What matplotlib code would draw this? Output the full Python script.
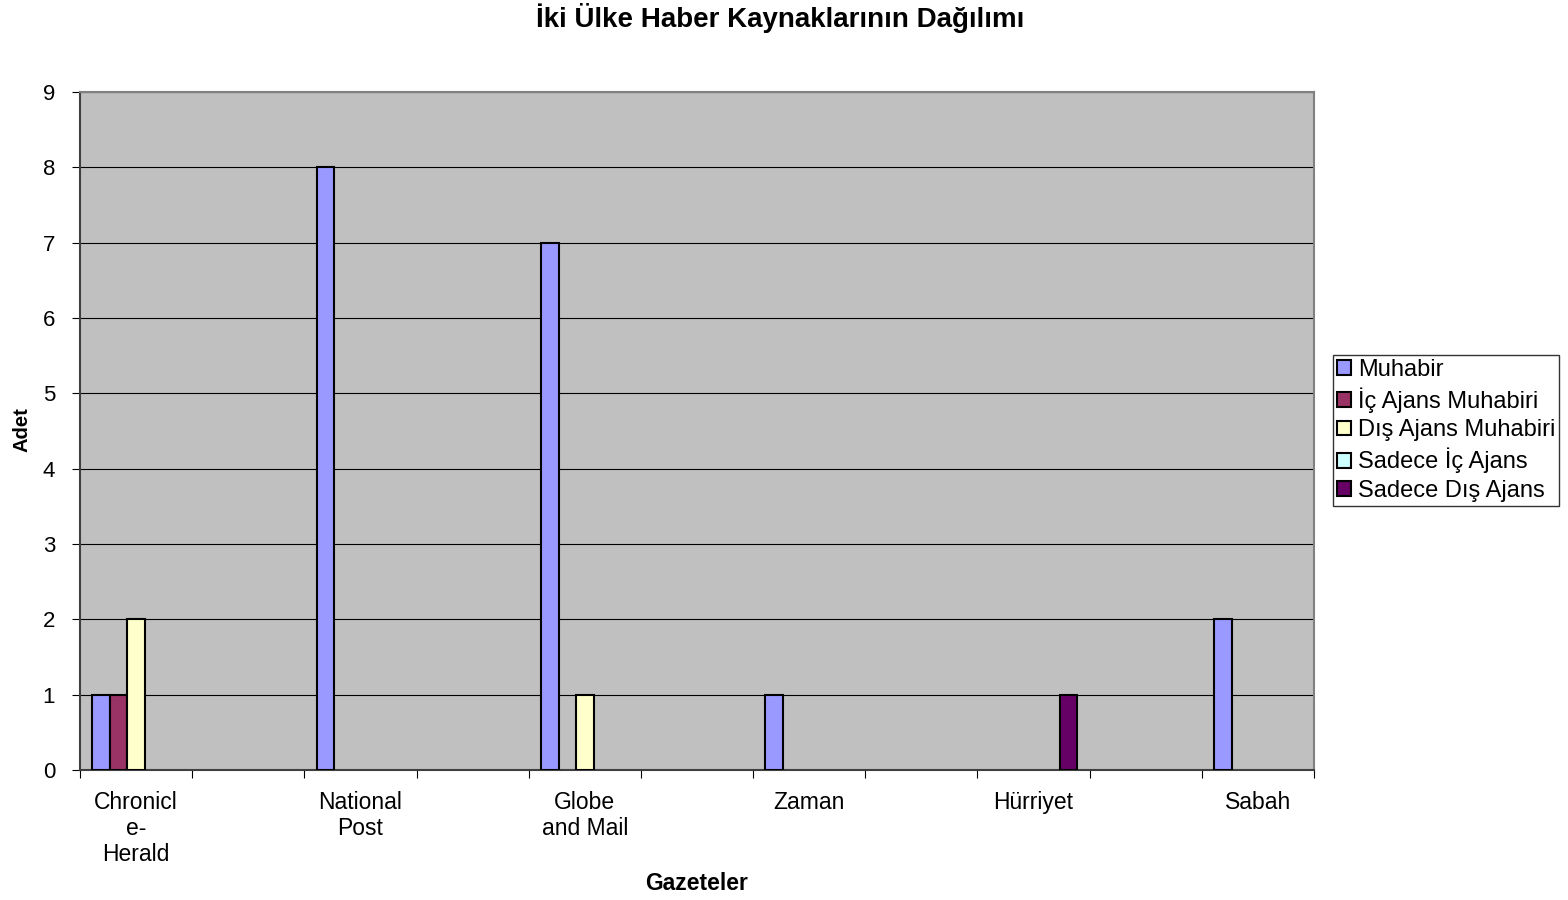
import numpy as np
import matplotlib.pyplot as plt

plt.rcParams['font.family'] = ['Liberation Sans', 'DejaVu Sans']

# categories (every second slot is an empty one in the original sheet)
categories = ["Chronicl\ne-\nHerald", "", "National\nPost", "", "Globe\nand Mail", "",
              "Zaman", "", "Hürriyet", "", "Sabah"]
series_names = ["Muhabir", "İç Ajans Muhabiri", "Dış Ajans Muhabiri",
                "Sadece İç Ajans", "Sadece Dış Ajans"]
muhabir = [1, 0, 8, 0, 7, 0, 1, 0, 0, 0, 2]
ic_ajans_muhabiri = [1, 0, 0, 0, 0, 0, 0, 0, 0, 0, 0]
dis_ajans_muhabiri = [2, 0, 0, 0, 1, 0, 0, 0, 0, 0, 0]
sadece_ic_ajans = [0, 0, 0, 0, 0, 0, 0, 0, 0, 0, 0]
sadece_dis_ajans = [0, 0, 0, 0, 0, 0, 0, 0, 1, 0, 0]
colors = ["#9999FF", "#993366", "#FFFFCC", "#CCFFFF", "#660066"]

series = [muhabir, ic_ajans_muhabiri, dis_ajans_muhabiri, sadece_ic_ajans, sadece_dis_ajans]

fig = plt.figure(figsize=(15.68, 9), dpi=100)
ax = fig.add_axes([80/1568, 1-770/900, (1314-80)/1568, (770-92)/900])
ax.set_facecolor("#C0C0C0")

x = np.arange(len(categories))
w = 0.156
for i, (name, vals, c) in enumerate(zip(series_names, series, colors)):
    v = np.array(vals, dtype=float)
    v[v == 0] = np.nan
    ax.bar(x + (i - 2) * w, v, width=w, color=c, edgecolor="black",
           linewidth=1.5, label=name, zorder=3)

ax.set_xlim(-0.5, len(categories) - 0.5)
ax.set_ylim(0, 9)
ax.set_yticks(range(10))
ax.yaxis.grid(True, color="#000000", linewidth=0.8, zorder=1)
ax.set_axisbelow(True)

ax.set_xticks(np.arange(-0.5, len(categories)), labels=[])
ax.set_xticks(x, labels=categories, minor=True)
ax.tick_params(axis="x", which="major", length=6, direction="out", color="#000000")
ax.tick_params(axis="x", which="minor", length=0, pad=15, labelsize=16.5)
ax.tick_params(axis="y", length=6, pad=12, labelsize=16)
for lab in ax.get_xticklabels(minor=True):
    lab.set_linespacing(1.16)
    lab.set_verticalalignment("top")

for s in ["left", "bottom"]:
    ax.spines[s].set_color("#404040")
    ax.spines[s].set_linewidth(1.5)
for s in ["right", "top"]:
    ax.spines[s].set_color("#808080")
    ax.spines[s].set_linewidth(1.5)

fig.text(780/1568, 1-18/900, "İki Ülke Haber Kaynaklarının Dağılımı", ha="center",
         va="center", fontsize=20, fontweight="bold")
fig.text(22/1568, 1-430/900, "Adet", rotation=90, ha="center", va="center",
         fontsize=14.5, fontweight="bold")
fig.text(697/1568, 1-884/900, "Gazeteler", ha="center", va="center",
         fontsize=16.5, fontweight="bold")

leg = fig.legend(loc="upper left", bbox_to_anchor=(1333/1568, 1-355/900),
                 fontsize=17, frameon=True, fancybox=False, edgecolor="black",
                 handlelength=0.6, handleheight=0.6, handletextpad=0.3,
                 borderpad=0.15, labelspacing=0.28, borderaxespad=0)
leg.get_frame().set_linewidth(1)
for h in leg.legend_handles:
    h.set_linewidth(1.5)

fig.savefig("out.png", dpi=100)
